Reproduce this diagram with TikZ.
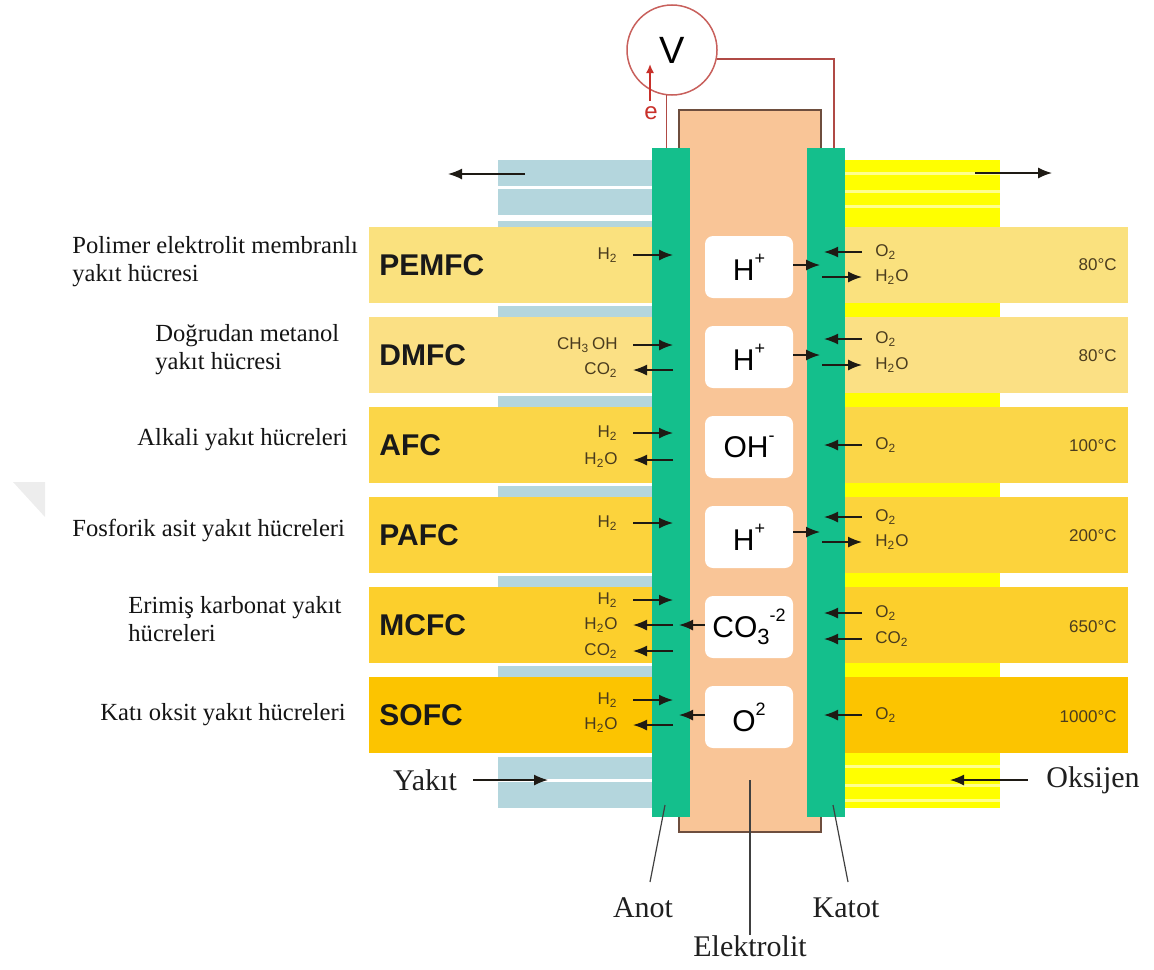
\documentclass[tikz,border=0pt]{standalone}
\usepackage{fontspec}
\setmainfont{Liberation Serif}
\setsansfont{Liberation Sans}
\usetikzlibrary{arrows.meta}
\definecolor{blueg}{HTML}{B4D6DD}
\definecolor{ybright}{HTML}{FFFF00}
\definecolor{ylight}{HTML}{FFFF8C}
\definecolor{gbar}{HTML}{14BF8C}
\definecolor{peach}{HTML}{F9C597}
\definecolor{elecline}{HTML}{6E4E3E}
\definecolor{rA}{HTML}{FAE17E}
\definecolor{rB}{HTML}{FBE084}
\definecolor{rC}{HTML}{FBD648}
\definecolor{rD}{HTML}{FCD33C}
\definecolor{rE}{HTML}{FCCF2C}
\definecolor{rF}{HTML}{FCC400}
\definecolor{chemc}{HTML}{4A3C1E}
\definecolor{wirec}{HTML}{B04A45}
\definecolor{vmc}{HTML}{C8605C}
\definecolor{ered}{HTML}{C8302A}
\definecolor{arrc}{HTML}{1E1A14}
\definecolor{wmark}{HTML}{EDEDED}

\newcommand\ionsup[1]{\raisebox{1.0ex}{\fontsize{9}{9}\selectfont #1}}
\newcommand\anin[3]{%
  \node[chem, anchor=east] (#1) at (618,#2) {#3};
  \coordinate (#1t) at (673,#2);
  \draw[arr] ([xshift=7.5pt]#1.east) -- (#1t);}
\newcommand\anout[3]{%
  \node[chem, anchor=east] (#1) at (618,#2) {#3};
  \coordinate (#1t) at (673,#2);
  \draw[arr] (#1t) -- ([xshift=7.5pt]#1.east);}
\newcommand\cain[3]{%
  \node[chem, anchor=west] (#1) at (875,#2) {#3};
  \coordinate (#1t) at (824,#2);
  \draw[arr] ([xshift=-6.5pt]#1.west) -- (#1t);}
\newcommand\caout[3]{%
  \node[chem, anchor=west] (#1) at (875,#2) {#3};
  \coordinate (#1t) at (822,#2);
  \draw[arr] (#1t) -- ([xshift=-6.5pt]#1.west);}

\begin{document}
\begin{tikzpicture}[x=0.5pt,y=-0.5pt,
  chem/.style={font=\sffamily\fontsize{8.5}{9}\selectfont, text=chemc, inner sep=0pt, text height=6pt, text depth=1.5pt},
  temp/.style={font=\sffamily\fontsize{8.5}{9}\selectfont, text=chemc, inner sep=0pt, anchor=east},
  rowlab/.style={font=\sffamily\bfseries\fontsize{15}{15}\selectfont, text=black!90, inner sep=0pt, anchor=west},
  ionbox/.style={fill=white, rounded corners=4pt, minimum width=44pt, minimum height=31pt, inner sep=0pt, font=\sffamily\fontsize{15}{15}\selectfont},
  desc/.style={font=\fontsize{12.3}{14}\selectfont, align=left, anchor=west, inner sep=0pt, text=black!92},
  big/.style={font=\fontsize{15}{15}\selectfont, inner sep=0pt, text=black!88},
  arr/.style={draw=arrc, line width=0.75pt, -{Latex[length=7pt,width=5.5pt]}},
  lead/.style={draw=black!75, line width=0.6pt},
  wire/.style={draw=wirec, line width=0.8pt},
  barbox/.style={fill=gbar, minimum width=19pt, minimum height=334.5pt, inner sep=0pt, outer sep=0pt},
]
\useasboundingbox (0,0) rectangle (1154,969);

% watermark
\fill[wmark] (13,482) -- (45,482) -- (45,517) -- cycle;

% left fuel channel (blue)
\fill[blueg] (498,160) rectangle (652,808);
\fill[white] (498,186) rectangle (652,189);
\fill[white] (498,215) rectangle (652,221);
\foreach \g in {302,392,482,572,662,753} \fill[white] (498,\g) rectangle (652,\g+4);
\fill[white] (498,779) rectangle (652,782);

% right oxygen channel (yellow)
\fill[ybright] (845,160) rectangle (1000,808);
\foreach \s in {172,190,205,765,784,799} \fill[ylight] (845,\s) rectangle (1000,\s+3);

% rows
\foreach \i/\c in {0/rA,1/rB,2/rC,3/rD,4/rE,5/rF}{
  \pgfmathsetmacro\rt{227+90*\i}
  \fill[\c] (369,\rt) rectangle (652,\rt+76);
  \fill[\c] (845,\rt) rectangle (1128,\rt+76);
}

% electrolyte and electrodes
\node[fill=peach, draw=elecline, line width=0.7pt, minimum width=71pt, minimum height=361pt, inner sep=0pt] (elec) at (750,471) {};
\node[barbox] (anode) at (671,482.5) {};
\node[barbox] (cathode) at (826,482.5) {};

% voltmeter
\node[circle, draw=vmc, fill=white, line width=0.75pt, minimum size=45pt, inner sep=0pt, font=\sffamily\fontsize{19}{19}\selectfont] (vm) at (672,50) {V};
\draw[wire] (vm.-97.66) -- (vm.-97.66 |- anode.north);
\draw[wire] (vm.-11.54) -| ([xshift=4pt]cathode.north);
\node[font=\sffamily\fontsize{12}{12}\selectfont, text=ered, inner sep=0pt] (el) at (651,113) {e};
\coordinate (eb) at (650,101);
\coordinate (et) at (650,64);
\draw[draw=ered, line width=0.8pt, -{Latex[length=4.5pt,width=4pt]}] (eb) -- (et);

% row labels and temperatures
\node[rowlab] (lab0) at (379,265) {PEMFC};
\node[rowlab] (lab1) at (379,355) {DMFC};
\node[rowlab] (lab2) at (379,445) {AFC};
\node[rowlab] (lab3) at (379,535) {PAFC};
\node[rowlab] (lab4) at (379,625) {MCFC};
\node[rowlab] (lab5) at (379,715) {SOFC};
\node[temp] (tmp0) at (1117,265) {80°C};
\node[temp] (tmp1) at (1117,356) {80°C};
\node[temp] (tmp2) at (1117,446) {100°C};
\node[temp] (tmp3) at (1117,536) {200°C};
\node[temp] (tmp4) at (1117,627) {650°C};
\node[temp] (tmp5) at (1117,717) {1000°C};

% ion boxes
\node[ionbox] (ion0) at (749,267) {H\ionsup{+}};
\node[ionbox] (ion1) at (749,357) {H\ionsup{+}};
\node[ionbox] (ion2) at (749,447) {OH\ionsup{-}};
\node[ionbox] (ion3) at (749,537) {H\ionsup{+}};
\node[ionbox] (ion4) at (749,627) {CO\raisebox{-0.45ex}{\fontsize{11}{11}\selectfont 3}\ionsup{-2}};
\node[ionbox] (ion5) at (749,717) {O\ionsup{2}};

% PEMFC
\anin{a0}{255}{H\textsubscript{2}}
\coordinate (i0t) at (820,265);
\draw[arr] (ion0.east |- i0t) -- (i0t);
\cain{c0a}{252}{O\textsubscript{2}}
\caout{c0b}{277}{H\textsubscript{2}O}

% DMFC
\anin{a1a}{345}{CH\textsubscript{3}\,OH}
\anout{a1b}{370}{CO\textsubscript{2}}
\coordinate (i1t) at (820,355);
\draw[arr] (ion1.east |- i1t) -- (i1t);
\cain{c1a}{339}{O\textsubscript{2}}
\caout{c1b}{365}{H\textsubscript{2}O}

% AFC
\anin{a2a}{433}{H\textsubscript{2}}
\anout{a2b}{460}{H\textsubscript{2}O}
\cain{c2a}{445}{O\textsubscript{2}}

% PAFC
\anin{a3a}{523}{H\textsubscript{2}}
\coordinate (i3t) at (820,532);
\draw[arr] (ion3.east |- i3t) -- (i3t);
\cain{c3a}{517}{O\textsubscript{2}}
\caout{c3b}{542}{H\textsubscript{2}O}

% MCFC
\anin{a4a}{600}{H\textsubscript{2}}
\anout{a4b}{625}{H\textsubscript{2}O}
\anout{a4c}{651}{CO\textsubscript{2}}
\coordinate (i4t) at (679,625);
\draw[arr] (ion4.west |- i4t) -- (i4t);
\cain{c4a}{613}{O\textsubscript{2}}
\cain{c4b}{639}{CO\textsubscript{2}}

% SOFC
\anin{a5a}{700}{H\textsubscript{2}}
\anout{a5b}{725}{H\textsubscript{2}O}
\coordinate (i5t) at (679,715);
\draw[arr] (ion5.west |- i5t) -- (i5t);
\cain{c5a}{715}{O\textsubscript{2}}

% descriptive labels
\node[desc] (d0) at (72,262) {Polimer elektrolit membranlı\\yakıt hücresi};
\node[desc] (d1) at (155,350) {Doğrudan metanol\\yakıt hücresi};
\node[desc] (d2) at (137,440) {Alkali yakıt hücreleri};
\node[desc] (d3) at (72,530) {Fosforik asit yakıt hücreleri};
\node[desc] (d4) at (128,619) {Erimiş karbonat yakıt\\hücreleri};
\node[desc] (d5) at (100,715) {Katı oksit yakıt hücreleri};

% flow arrows
\coordinate (tl1) at (525,174);
\coordinate (tl2) at (448,174);
\draw[arr] (tl1) -- (tl2);
\coordinate (tr1) at (975,173);
\coordinate (tr2) at (1052,173);
\draw[arr] (tr1) -- (tr2);
\node[big] (yakit) at (425,780) {Yakıt};
\coordinate (yk) at (548,780);
\draw[arr] ([xshift=8pt]yakit.east) -- (yk);
\node[big] (oks) at (1093,780) {Oksijen};
\coordinate (ok) at (950,780);
\draw[arr] ([xshift=-9pt]oks.west) -- (ok);

% bottom labels
\node[big] (anot) at (643,908) {Anot};
\node[big] (katot) at (846,908) {Katot};
\node[big] (elek) at (750,946) {Elektrolit};
\coordinate (anA) at (665,805);
\coordinate (anB) at (650,882);
\draw[lead] (anA) -- (anB);
\coordinate (kaA) at (833,805);
\coordinate (kaB) at (848,882);
\draw[lead] (kaA) -- (kaB);
\coordinate (elA) at (750,780);
\draw[lead] (elA) -- (elek.north);
\end{tikzpicture}
\end{document}
